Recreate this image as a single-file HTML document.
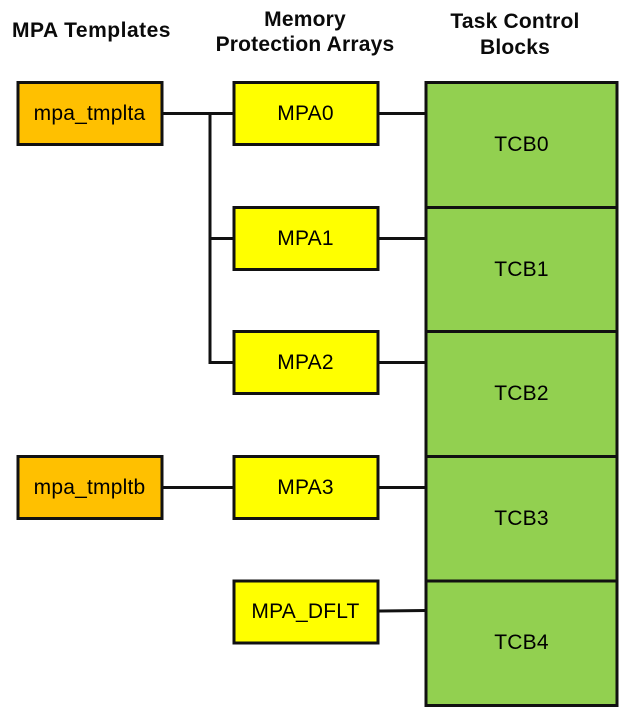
<!DOCTYPE html>
<html>
<head>
<meta charset="utf-8">
<style>
html,body{margin:0;padding:0;background:#fff;width:620px;height:708px;overflow:hidden}
svg{display:block}
text{font-family:"Liberation Sans",Arial,sans-serif;font-size:21px;letter-spacing:.2px;fill:#000;text-anchor:middle}
.h{font-weight:bold;fill:#0a0a0a;font-size:21px;letter-spacing:.2px}
rect{stroke:#111;stroke-width:3}
line{stroke:#111;stroke-width:3;fill:none}
</style>
</head>
<body>
<svg width="620" height="708" viewBox="0 0 620 708" xmlns="http://www.w3.org/2000/svg">
<rect width="620" height="708" style="fill:#fff;stroke:none"/>
<text class="h" x="91.500" y="37" style="letter-spacing:.5px">MPA Templates</text>
<text class="h" x="305" y="26">Memory</text>
<text class="h" x="305" y="51">Protection Arrays</text>
<text class="h" x="515" y="28">Task Control</text>
<text class="h" x="515" y="54">Blocks</text>

<line x1="162" y1="113.500" x2="234" y2="113.500"/>
<line x1="378" y1="113.500" x2="426" y2="113.500"/>
<line x1="210" y1="113.500" x2="210" y2="364"/>
<line x1="210" y1="238.500" x2="234" y2="238.500"/>
<line x1="210" y1="362.500" x2="234" y2="362.500"/>
<line x1="378" y1="238.500" x2="426" y2="238.500"/>
<line x1="378" y1="362.500" x2="426" y2="362.500"/>
<line x1="162" y1="487.500" x2="234" y2="487.500"/>
<line x1="378" y1="487.500" x2="426" y2="487.500"/>
<line x1="378" y1="611" x2="426" y2="610.500"/>

<rect x="18" y="82.500" width="144" height="62" fill="#ffc000"/>
<rect x="18" y="456.500" width="144" height="62" fill="#ffc000"/>
<rect x="234" y="82.500" width="144" height="62" fill="#ffff00"/>
<rect x="234" y="207.500" width="144" height="62" fill="#ffff00"/>
<rect x="234" y="331.500" width="144" height="62" fill="#ffff00"/>
<rect x="234" y="456.500" width="144" height="62" fill="#ffff00"/>
<rect x="234" y="581" width="144" height="62" fill="#ffff00"/>
<rect x="426" y="82.500" width="191" height="125" fill="#92d050"/>
<rect x="426" y="207.500" width="191" height="124" fill="#92d050"/>
<rect x="426" y="331.500" width="191" height="125" fill="#92d050"/>
<rect x="426" y="456.500" width="191" height="125" fill="#92d050"/>
<rect x="426" y="581" width="191" height="124.500" fill="#92d050"/>

<text x="89.500" y="120">mpa_tmplta</text>
<text x="89.500" y="494">mpa_tmpltb</text>
<text x="305.500" y="120">MPA0</text>
<text x="305.500" y="245">MPA1</text>
<text x="305.500" y="369">MPA2</text>
<text x="305.500" y="494">MPA3</text>
<text x="305.500" y="618">MPA_DFLT</text>
<text x="521.500" y="151">TCB0</text>
<text x="521.500" y="276">TCB1</text>
<text x="521.500" y="400">TCB2</text>
<text x="521.500" y="525">TCB3</text>
<text x="521.500" y="649">TCB4</text>
</svg>
</body>
</html>
